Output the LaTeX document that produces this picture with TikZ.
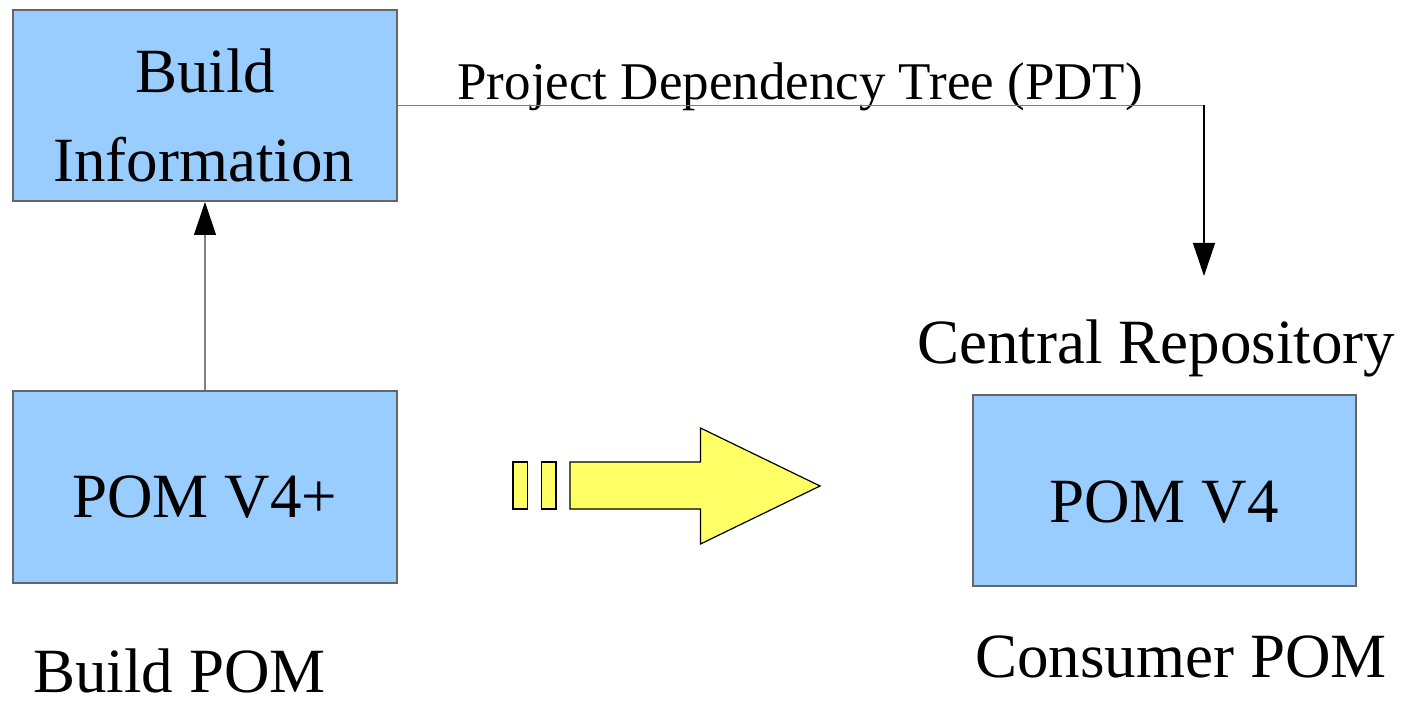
\documentclass[tikz,border=0pt]{standalone}
\usepackage{fontspec}
\setmainfont{Liberation Serif}
\usetikzlibrary{arrows.meta}
\definecolor{boxblue}{HTML}{99CCFF}
\definecolor{boxline}{HTML}{666666}
\definecolor{conngray}{HTML}{808080}
\definecolor{arrowyellow}{HTML}{FFFF66}
\tikzset{
  box/.style={draw=boxline, fill=boxblue, line width=1pt, inner sep=0pt},
  bigtext/.style={font=\fontsize{31.5pt}{38pt}\selectfont, inner sep=0pt, anchor=base west},
  smalltext/.style={font=\fontsize{26.5pt}{32pt}\selectfont, inner sep=0pt, anchor=base west},
  conn/.style={line width=0.6pt, -{Triangle[length=16.5pt,width=11pt,color=black]}},
  yel/.style={fill=arrowyellow, draw=black, line width=0.6pt, line join=miter}
}
\begin{document}
\begin{tikzpicture}[x=0.5pt,y=-0.5pt]
\useasboundingbox (0,0) rectangle (1405,701);
% boxes
\node[box, minimum width=192pt, minimum height=95.5pt] (bi) at (205,105.5) {};
\node[box, minimum width=192pt, minimum height=96pt] (pomp) at (205,487) {};
\node[box, minimum width=191.5pt, minimum height=95.5pt] (pomc) at (1164.5,490.5) {};
% texts
\node[bigtext] (t1) at (135,93) {Build};
\node[bigtext] (t2) at (53,182) {Information};
\node[bigtext] (t3) at (72,517) {POM V4+};
\node[bigtext] (t4) at (1049,522) {POM V4};
\node[bigtext, text depth=0pt] (t5) at (33,692) {Build POM};
\node[bigtext] (t6) at (975,677) {Consumer POM};
\node[bigtext] (t7) at (917,364) {Central Repository};
\node[smalltext] (t8) at (457,100) {Project Dependency Tree (PDT)};
% connectors
\coordinate (turn) at (1204,105.5);
\coordinate (crtop) at (1204,276);
\draw[draw=conngray, line width=0.8pt] (bi.east) -- (turn);
\draw[conn] (turn) -- (crtop);
\draw[conn, draw=conngray] (pomp.north) -- (bi.south);
% yellow arrow
\draw[yel] (513,462) rectangle (527.5,509);
\draw[yel] (541.5,462) rectangle (556,509);
\draw[yel] (570,462) -- (700.5,462) -- (700.5,428) -- (820,486) -- (700.5,544) -- (700.5,509) -- (570,509) -- cycle;
\end{tikzpicture}
\end{document}
